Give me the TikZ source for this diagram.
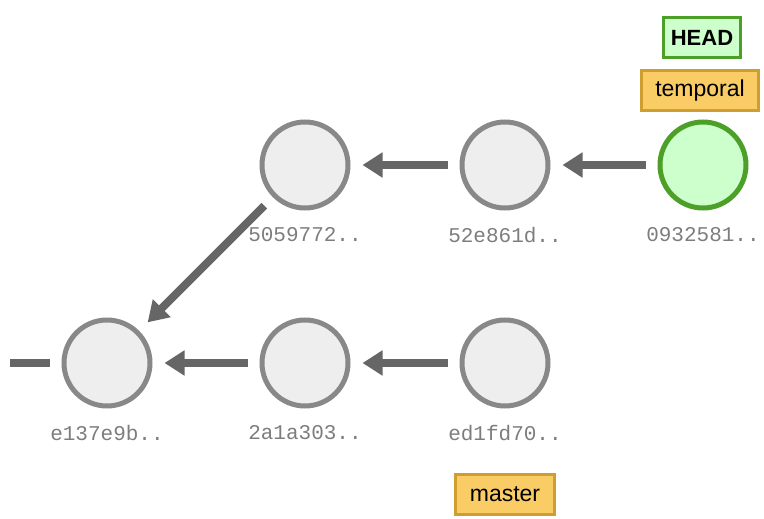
\documentclass[tikz,border=0pt]{standalone}
\usepackage{fontspec}
\setmainfont{Liberation Sans}
\newfontfamily\hashfont{Liberation Mono}
\usetikzlibrary{arrows.meta,positioning}
\definecolor{commitfill}{RGB}{238,238,238}
\definecolor{commitdraw}{RGB}{136,136,136}
\definecolor{headfill}{RGB}{204,255,204}
\definecolor{headdraw}{RGB}{76,160,40}
\definecolor{branchfill}{RGB}{250,204,102}
\definecolor{branchdraw}{RGB}{206,158,48}
\definecolor{edgecolor}{RGB}{102,102,102}
\definecolor{hashcolor}{RGB}{125,125,125}
\tikzstyle{commit}=[circle,draw=commitdraw,fill=commitfill,line width=5pt,minimum size=86pt,inner sep=0pt]
\tikzstyle{current commit}=[commit,draw=headdraw,fill=headfill]
\tikzstyle{hash}=[font=\hashfont\fontsize{21}{25}\selectfont,text=hashcolor,inner sep=2pt,label distance=15pt]
\tikzstyle{branch}=[draw=branchdraw,fill=branchfill,line width=3pt,minimum height=40pt,inner xsep=14pt,font=\fontsize{23}{27}\selectfont]
\tikzstyle{head}=[branch,draw=headdraw,fill=headfill,inner xsep=7pt,font=\bfseries\fontsize{22}{26}\selectfont]
\tikzstyle{parent edge}=[-{Triangle[length=20pt,width=24pt]},line width=8pt,edgecolor,shorten >=12pt,shorten <=12pt]

\begin{document}
\begin{tikzpicture}[x=1pt,y=-1pt]
\useasboundingbox (0,0) rectangle (764,519);

    % commits
    \foreach \name/\x/\y in {e137e9b/107/363,2a1a303/305/363,ed1fd70/505/363,5059772/305/165,52e861d/505/165}
        \node[commit, label={[hash]below:\name..}] (\name) at (\x,\y) {};

    \node[current commit, label={[hash]below:0932581..}] (0932581) at (703,165) {};

    % refs
    \node[branch, above=7pt of 0932581, xshift=-3pt] (temporal) {temporal};
    \node[head, above=10pt of temporal, xshift=2pt] (HEAD) {HEAD};
    \node[branch, below=64pt of ed1fd70] (master) {master};

    % history before e137e9b
    \coordinate (older) at (10,363);
    \draw[parent edge, -, shorten <=0pt] (older) -- (e137e9b);

    \foreach \child/\parent in {52e861d/5059772,0932581/52e861d,5059772/e137e9b,2a1a303/e137e9b,ed1fd70/2a1a303}
        \draw[parent edge] (\child) -- (\parent);

\end{tikzpicture}
\end{document}
